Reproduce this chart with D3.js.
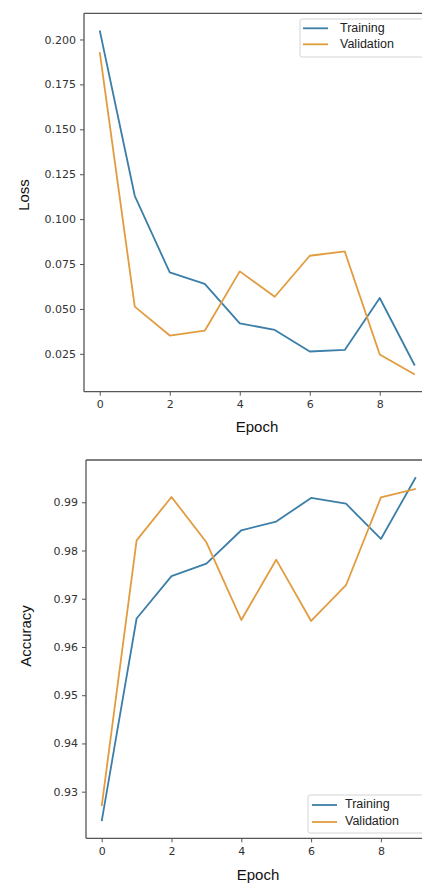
<!DOCTYPE html>
<html><head><meta charset="utf-8">
<script src="https://cdn.jsdelivr.net/npm/d3@7"></script>
<style>body{margin:0;background:#fff}svg{display:block}</style>
</head><body>
<script>
const epochs = [0,1,2,3,4,5,6,7,8,9];
const lossTraining = [0.2050,0.1130,0.0703,0.0639,0.0420,0.0383,0.0263,0.0272,0.0561,0.0185];
const lossValidation = [0.1930,0.0513,0.0352,0.0379,0.0709,0.0568,0.0796,0.0820,0.0246,0.0135];
const accTraining = [0.9239,0.9659,0.9747,0.9773,0.9842,0.9860,0.9909,0.9897,0.9824,0.9952];
const accValidation = [0.9270,0.9821,0.9911,0.9817,0.9656,0.9781,0.9654,0.9728,0.9910,0.9928];
const xTicks = [0,2,4,6,8];
const lossTicks = [0.025,0.050,0.075,0.100,0.125,0.150,0.175,0.200];
const accTicks = [0.93,0.94,0.95,0.96,0.97,0.98,0.99];
const seriesNames = ["Training","Validation"];
const colors = ["#3b7ea8","#e29c40"];

const W = 422, H = 884;
const svg = d3.select("body").append("svg").attr("width", W).attr("height", H);

function panel(cfg){
  const g = svg.append("g");
  const all = cfg.series.flat();
  const [mn, mx] = d3.extent(all);
  const pad = (mx - mn) * 0.05;
  const x = d3.scaleLinear().domain([-0.45, 9.45]).range([cfg.left, cfg.left + 9.9 * cfg.xUnit]);
  const y = d3.scaleLinear().domain([mn - pad, mx + pad]).range([cfg.bottom, cfg.top]);

  const sp = g.append("g").attr("stroke", "#555").attr("stroke-width", 1.3).attr("fill","none");
  sp.append("line").attr("x1", cfg.left).attr("x2", cfg.left).attr("y1", cfg.top).attr("y2", cfg.bottom);
  sp.append("line").attr("x1", cfg.left).attr("x2", W + 20).attr("y1", cfg.top).attr("y2", cfg.top);
  sp.append("line").attr("x1", cfg.left).attr("x2", W + 20).attr("y1", cfg.bottom).attr("y2", cfg.bottom);

  const ya = g.append("g").attr("transform", `translate(${cfg.left},0)`)
    .call(d3.axisLeft(y).tickValues(cfg.yTicks).tickFormat(d3.format(cfg.fmt)).tickSize(4).tickPadding(4));
  const xa = g.append("g").attr("transform", `translate(0,${cfg.bottom})`)
    .call(d3.axisBottom(x).tickValues(xTicks).tickFormat(d3.format("d")).tickSize(4).tickPadding(5));
  [ya, xa].forEach(a => {
    a.select(".domain").remove();
    a.selectAll("line").attr("stroke", "#555");
    a.selectAll("text").attr("fill", "#333").style("font-family", "DejaVu Sans").style("font-size", "11px");
  });

  const line = d3.line().x((d, i) => x(epochs[i])).y(d => y(d));
  cfg.series.forEach((s, k) => {
    g.append("path").datum(s).attr("d", line).attr("fill", "none")
      .attr("stroke", colors[k]).attr("stroke-width", 1.8).attr("stroke-linejoin","round");
  });

  g.append("text").attr("x", (cfg.left + 422 + 8) / 2).attr("y", cfg.xLabelY)
    .attr("text-anchor", "middle").attr("dominant-baseline","middle")
    .style("font-family", "Liberation Sans, Arial").style("font-size", "15px").attr("fill", "#111").text("Epoch");
  g.append("text").attr("transform", `translate(${cfg.yLabelX},${cfg.yLabelY}) rotate(-90)`)
    .attr("text-anchor", "middle").attr("dominant-baseline","middle")
    .style("font-family", "Liberation Sans, Arial").style("font-size", "15px").attr("fill", "#111").text(cfg.ylabel);

  const L = cfg.legend;
  const lg = g.append("g");
  lg.append("rect").attr("x", L.x).attr("y", L.y).attr("width", 140).attr("height", L.h)
    .attr("rx", 2).attr("fill", "#fff").attr("fill-opacity", 0.85).attr("stroke", "#d4d4d4").attr("stroke-width", 1);
  seriesNames.forEach((n, k) => {
    const yy = L.y + L.row0 + k * L.dy;
    lg.append("line").attr("x1", L.x + L.lx0).attr("x2", L.x + L.lx0 + 25).attr("y1", yy).attr("y2", yy)
      .attr("stroke", colors[k]).attr("stroke-width", 1.8);
    lg.append("text").attr("x", L.x + L.tx).attr("y", yy).attr("dominant-baseline", "middle")
      .style("font-family", "Liberation Sans, Arial").style("font-size", "12.5px").attr("fill", "#222").text(n);
  });
}

panel({
  series: [lossTraining, lossValidation], yTicks: lossTicks, fmt: ".3f",
  left: 84, xUnit: 35, top: 13.3, bottom: 391.7,
  xLabelY: 428, yLabelX: 25, yLabelY: 195, ylabel: "Loss",
  legend: {x: 300, y: 19, h: 38, row0: 9.3, dy: 16, lx0: 3, tx: 40}
});
panel({
  series: [accTraining, accValidation], yTicks: accTicks, fmt: ".2f",
  left: 86, xUnit: 34.9, top: 460, bottom: 838.3,
  xLabelY: 876, yLabelX: 27, yLabelY: 636, ylabel: "Accuracy",
  legend: {x: 308, y: 795, h: 38, row0: 10, dy: 17, lx0: 4, tx: 37}
});
</script>
</body></html>
